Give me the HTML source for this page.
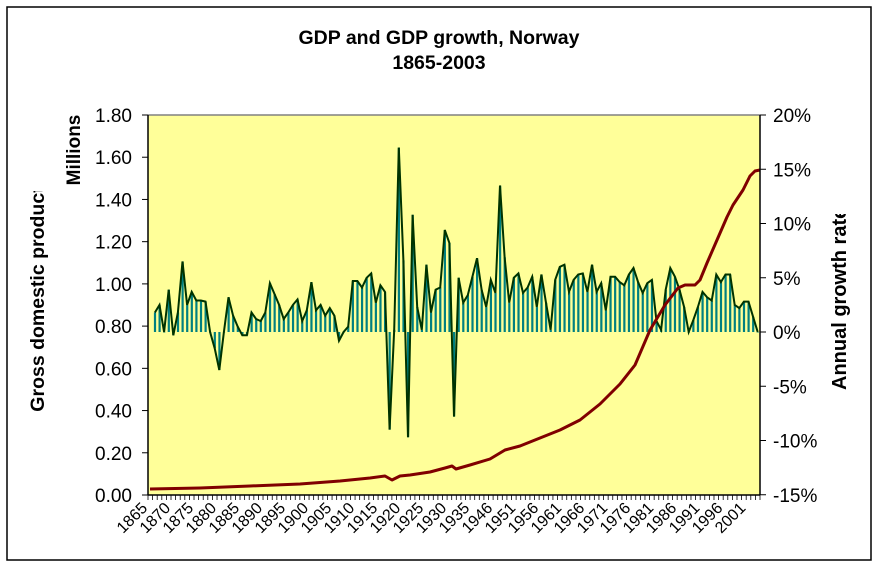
<!DOCTYPE html>
<html><head><meta charset="utf-8"><style>
html,body{margin:0;padding:0;background:#fff;}
svg{display:block;font-family:"Liberation Sans",Arial,sans-serif;}
</style></head><body>
<svg id="c" width="880" height="569" viewBox="0 0 880 569" xmlns="http://www.w3.org/2000/svg">
<defs><clipPath id="cr"><rect x="800" y="214" width="70" height="200"/></clipPath>
<clipPath id="cl"><rect x="10" y="191" width="60" height="240"/></clipPath></defs>
<rect x="7" y="7" width="864" height="553" fill="#fff" stroke="#000" stroke-width="1.5"/>
<rect x="148" y="115" width="612" height="380" fill="#FFFF99"/>
<line x1="148" y1="115" x2="760" y2="115" stroke="#808080" stroke-width="1.5"/>
<text x="439" y="44" text-anchor="middle" font-size="19.5" font-weight="bold">GDP and GDP growth, Norway</text>
<text x="439" y="69" text-anchor="middle" font-size="19.5" font-weight="bold">1865-2003</text>
<g id="bars"></g>
<polyline id="gl" fill="none" stroke="#003300" stroke-width="2"/>
<polyline fill="none" stroke="#800000" stroke-width="3" stroke-linejoin="round" points="150,489 200,488 250,486 300,484 340,481 370,478 385,476 392,480 400,476 410,475 430,472 445,468 452,466 456,469 470,465 490,459 505,450 520,446 540,438 560,430 580,420 600,404 620,384 635,365 650,330 665,305 678,288 685,285 695,285 700,280 707,263 717,240 727,217 733,205 743,190 750,176 755,171 760,170"/>
<line x1="148" y1="115" x2="148" y2="495" stroke="#000" stroke-width="1.5"/>
<line x1="760" y1="115" x2="760" y2="495" stroke="#000" stroke-width="1.5"/>
<line x1="148" y1="495" x2="760" y2="495" stroke="#000" stroke-width="1.5"/>
<g id="ax" font-size="19"></g>
<g clip-path="url(#cl)"><text transform="translate(44,299) rotate(-90)" text-anchor="middle" font-size="19.5" font-weight="bold">Gross domestic product</text></g>
<text transform="translate(80,150) rotate(-90)" text-anchor="middle" font-size="19" font-weight="bold">Millions</text>
<g clip-path="url(#cr)"><text transform="translate(846,390) rotate(-90)" font-size="20" font-weight="bold">Annual growth rate</text></g>
</svg>
<script>
var g=[null,1.8,2.5,0,3.9,-0.3,1.8,6.5,2.5,3.7,2.9,2.9,2.8,0,-1.5,-3.5,0,3.2,1.5,0.5,-0.3,-0.3,1.8,1.2,1,1.8,4.5,3.5,2.5,1.2,1.8,2.5,3,1,2,4.6,2,2.5,1.5,2.2,1.5,-0.8,0,0.5,4.7,4.7,
4.1,5,5.4,2.7,4.3,3.7,-9,0.2,17,6.6,-9.7,10.8,2.3,0.2,6.2,1.8,3.9,4.1,9.4,8.2,-7.8,5,2.7,3.4,5.1,6.8,3.9,2.3,4.8,3.6,13.5,6.9,2.7,5,5.4,3.6,4.1,5.1,2.3,5.3,2.7,0.2,4.8,
6.0,6.2,3.7,4.8,5.3,5.4,3.7,6.2,3.7,4.5,2.0,5.1,5.1,4.6,4.3,5.3,5.9,4.6,3.6,4.5,4.8,1.0,0.2,3.9,5.9,5.1,3.9,2.3,0,1.1,2.3,3.7,3.2,2.9,5.3,4.6,5.3,5.3,2.5,2.2,2.8,2.8,1.4,0];
var N=133,w=612/N,NS="http://www.w3.org/2000/svg";
function X(i){return 148+w*(i+0.5);}
function Y(p){return 332-p*10.85;}
var bars=document.getElementById('bars'),pts=[];
for(var i=0;i<N;i++){var v=g[i];if(v===null||v===undefined)continue;
 var r=document.createElementNS(NS,'rect');var y1=Y(Math.max(v,0)),y2=Y(Math.min(v,0));
 r.setAttribute('x',X(i)-1);r.setAttribute('width',2.2);r.setAttribute('y',y1);r.setAttribute('height',Math.max(y2-y1,0.5));r.setAttribute('fill','#008080');bars.appendChild(r);
 pts.push(X(i).toFixed(1)+','+Y(v).toFixed(1));}
document.getElementById('gl').setAttribute('points',pts.join(' '));
var ax=document.getElementById('ax'),h='';
for(var k=0;k<=9;k++){var y=495-k*380/9;h+='<line x1="142" y1="'+y+'" x2="148" y2="'+y+'" stroke="#000"/><text x="132" y="'+(y+7)+'" text-anchor="end">'+(k*0.2).toFixed(2)+'</text>';}
for(var k=0;k<=7;k++){var p=-15+5*k,y=Y(p);h+='<line x1="760" y1="'+y+'" x2="766" y2="'+y+'" stroke="#000"/><text x="773" y="'+(y+7)+'">'+p+'%</text>';}
for(var i=0;i<=N;i++){var x=148+w*i;h+='<line x1="'+x+'" y1="495" x2="'+x+'" y2="500" stroke="#000" stroke-width="0.8"/>';}
for(var i=0;i<=130;i+=5){var yr=i<75?1865+i:1871+i,x=X(i);h+='<text font-size="16" text-anchor="end" transform="translate('+(x-2)+',509) rotate(-45)">'+yr+'</text>';}
ax.innerHTML=h;
</script>
</body></html>
